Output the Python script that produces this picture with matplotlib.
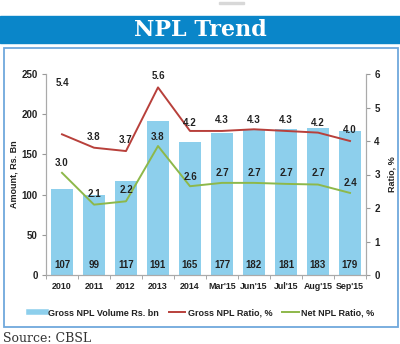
import numpy as np
import matplotlib
matplotlib.use('Agg')
import matplotlib.pyplot as plt
from matplotlib.patches import Rectangle
from matplotlib.lines import Line2D

# data
periods = ['2010', '2011', '2012', '2013', '2014', "Mar'15", "Jun'15", "Jul'15", "Aug'15", "Sep'15"]
volume = [107, 99, 117, 191, 165, 177, 182, 181, 183, 179]
gross_ratio = [5.4, 3.8, 3.7, 5.6, 4.2, 4.3, 4.3, 4.3, 4.2, 4.0]
net_ratio = [3.0, 2.1, 2.2, 3.8, 2.6, 2.7, 2.7, 2.7, 2.7, 2.4]
# where the lines are actually drawn in the picture
gross_line = [4.2, 3.8, 3.7, 5.6, 4.3, 4.3, 4.35, 4.3, 4.25, 4.0]
net_line = [3.05, 2.1, 2.2, 3.85, 2.65, 2.75, 2.75, 2.72, 2.7, 2.45]

bar_color = '#8DCFEC'
red = '#B8403B'
green = '#8DB84A'
font = 'Liberation Sans'

plt.rcParams['font.family'] = [font, 'DejaVu Sans']

fig = plt.figure(figsize=(4, 3.44), dpi=100)
H = 344.0

# title banner
fig.patches.append(Rectangle((0, 1 - 43 / H), 1, 27 / H, transform=fig.transFigure,
                             color='#0A86C9', zorder=0))
fig.text(0.5, 1 - 30 / H, 'NPL Trend', color='white', ha='center', va='center',
         fontsize=16, fontweight='bold', family='DejaVu Serif')
fig.patches.append(Rectangle((219 / 400, 1 - 4 / H), 25 / 400, 2 / H, transform=fig.transFigure,
                             color='#D8D8D8', zorder=0))

# frame around the chart
fig.patches.append(Rectangle((4 / 400, 1 - 327 / H), 394 / 400, 279 / H, transform=fig.transFigure,
                             fill=False, ec='#6FA8DC', lw=1.3, zorder=0))

ax = fig.add_axes([46 / 400, 1 - 275 / H, 320 / 400, 201 / H])
x = np.arange(len(periods))
ax.bar(x, volume, width=0.68, color=bar_color, zorder=2)
for i, v in enumerate(volume):
    ax.text(i, 12.5, str(v), ha='center', va='center', fontsize=7, fontweight='bold', color='#222222')

ax.set_xlim(-0.5, len(periods) - 0.5)
ax.set_ylim(0, 250)
ax.set_yticks(range(0, 251, 50))
ax.set_xticks(x)
ax.set_xticklabels(periods)
ax.set_xticks(np.arange(-0.5, len(periods), 1), minor=True)
ax.tick_params(axis='x', which='major', length=0, pad=5, labelsize=6.4, colors='#222222')
ax.tick_params(axis='x', which='minor', length=3, color='#999999')
ax.tick_params(axis='y', length=3, color='#999999', labelsize=7, labelcolor='#222222', pad=3)
for lab in ax.get_xticklabels() + ax.get_yticklabels():
    lab.set_fontweight('bold')
ax.set_ylabel('Amount, Rs. Bn', fontsize=6.5, fontweight='bold', color='#222222')
ax.yaxis.set_label_coords(-0.085, 0.5)
ax.spines['top'].set_visible(False)
for s in ['left', 'bottom', 'right']:
    ax.spines[s].set_color('#AAAAAA')

ax2 = ax.twinx()
ax2.plot(x, gross_line, color=red, lw=1.4)
ax2.plot(x, net_line, color=green, lw=1.4)
for i in range(len(periods)):
    ax2.annotate(f'{gross_ratio[i]:.1f}', (i, gross_ratio[i]), xytext=(0, 8), textcoords='offset points',
                 ha='center', va='center', fontsize=7, fontweight='bold', color='#222222')
    ax2.annotate(f'{net_ratio[i]:.1f}', (i, net_ratio[i]), xytext=(0, 8), textcoords='offset points',
                 ha='center', va='center', fontsize=7, fontweight='bold', color='#222222')
ax2.set_ylim(0, 6)
ax2.set_yticks(range(0, 7))
ax2.tick_params(axis='y', length=3, color='#999999', labelsize=7, labelcolor='#222222', pad=3)
for lab in ax2.get_yticklabels():
    lab.set_fontweight('bold')
ax2.set_ylabel('Ratio, %', fontsize=6.5, fontweight='bold', color='#222222', rotation=90)
ax2.yaxis.set_label_coords(1.066, 0.5)
ax2.spines['top'].set_visible(False)
for s in ['left', 'bottom', 'right']:
    ax2.spines[s].set_color('#AAAAAA')

handles = [Line2D([], [], color=bar_color, lw=4),
           Line2D([], [], color=red, lw=1.4),
           Line2D([], [], color=green, lw=1.4)]
labels = ['Gross NPL Volume Rs. bn', 'Gross NPL Ratio, %', 'Net NPL Ratio, %']
leg = fig.legend(handles, labels, loc='center', bbox_to_anchor=(0.505, 1 - 313 / H), ncol=3,
                 frameon=False, handlelength=1.8, handletextpad=0.3, columnspacing=1.1,
                 prop={'size': 6.5, 'weight': 'bold'})
for t in leg.get_texts():
    t.set_color('#222222')

fig.text(3 / 400, 1 - 338 / H, 'Source: CBSL', ha='left', va='center', fontsize=9,
         family='DejaVu Serif', color='#333333')

fig.savefig('out.png', dpi=100)
